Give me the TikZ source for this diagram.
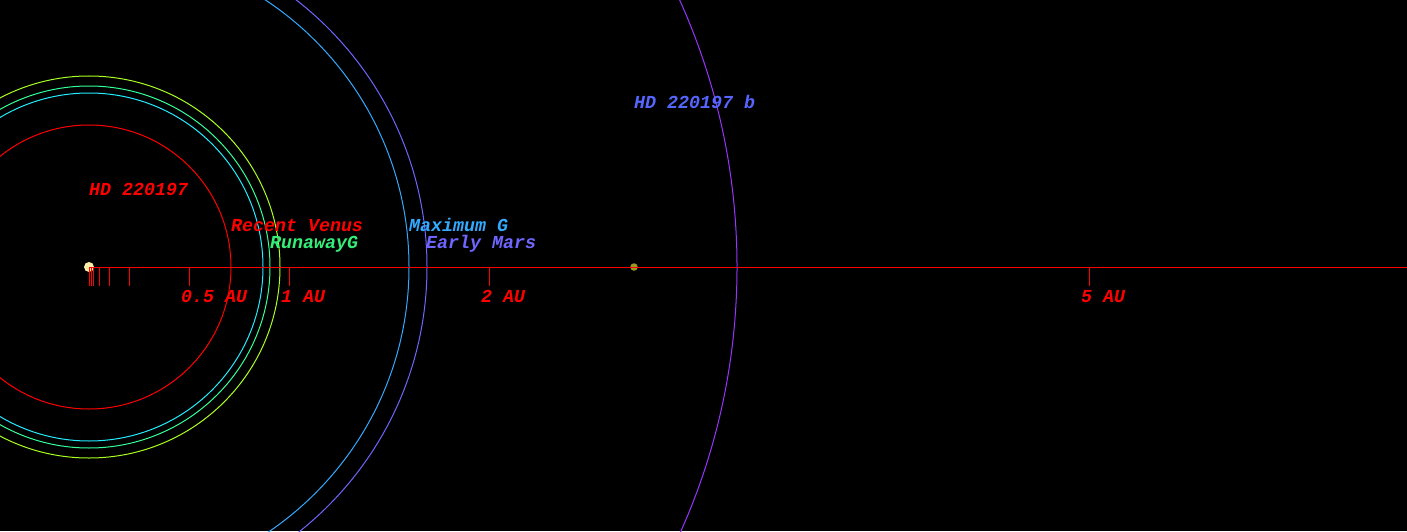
\documentclass[tikz,border=0pt]{standalone}
\usepackage{fontspec}
\setmonofont{Liberation Mono}
\begin{document}
\begin{tikzpicture}[x=200pt, y=200pt,
    orbit/.style={line width=1pt},
    axisline/.style={red, line width=1pt},
    lbl/.style={anchor=base west, inner sep=0pt, font=\ttfamily\bfseries\itshape\fontsize{18.3}{20}\selectfont}]
    % Define colours
    \definecolor{starColour}{HTML}{FFEEAA}
    \definecolor{planetColour}{HTML}{9A9A22}
    \definecolor{venusColour}{HTML}{FF0000}
    \definecolor{maxGreenColour}{HTML}{22EEFF}
    \definecolor{runawayColour}{HTML}{33FF99}
    \definecolor{limeColour}{HTML}{AAFF22}
    \definecolor{maxGColour}{HTML}{33AAFF}
    \definecolor{marsColour}{HTML}{6F66FF}
    \definecolor{orbitColour}{HTML}{9933FF}
    \definecolor{runawayText}{HTML}{33EE77}
    \definecolor{planetText}{HTML}{5566FF}

    % Define frame limits (in AU, 1 AU = 200pt)
    \def\xMin{-0.445}
    \def\xMax{6.59}
    \def\yMin{-1.32}
    \def\yMax{1.335}

    % Draw background
    \clip (\xMin,\yMin) rectangle (\xMax,\yMax);
    \fill[black] (\xMin,\yMin) rectangle (\xMax,\yMax);

    % Draw habitable zone limits
    \draw[orbit, venusColour] (0,0) circle (0.71);
    \draw[orbit, maxGreenColour] (0,0) circle (0.87);
    \draw[orbit, runawayColour] (0,0) circle (0.905);
    \draw[orbit, limeColour] (0,0) circle (0.955);
    \draw[orbit, maxGColour] (0,0) circle (1.6);
    \draw[orbit, marsColour] (0,0) circle (1.69);

    % Draw planet orbit
    \draw[orbit, orbitColour] (0,0) circle (3.24);

    % Draw star and planet
    \node[circle, fill=starColour, inner sep=0pt, minimum size=10pt] (star) at (0,0) {};
    \node[circle, fill=planetColour, inner sep=0pt, minimum size=7.5pt] (planet) at (2.725,0) {};

    % Draw axis
    \coordinate (axisEnd) at (\xMax,0);
    \draw[axisline] (star.center) -- (axisEnd);
    \foreach \t in {0,0.01,0.02,0.05,0.1,0.2,0.5,1,2,5}
        \draw[axisline] (\t,0) -- (\t,-0.095);

    % Label axis
    \foreach \t/\txt/\name in {0.5/0.5 AU/half,1/1 AU/one,2/2 AU/two,5/5 AU/five}
        \node[lbl, red] (tick\name) at (\t-0.04,-0.178) {\txt};

    % Label star, planet and limits
    \node[lbl, red] (starLabel) at (0,0.36) {HD 220197};
    \node[lbl, venusColour] (venusLabel) at (0.71,0.18) {Recent Venus};
    \node[lbl, runawayText] (runawayLabel) at (0.905,0.095) {RunawayG};
    \node[lbl, maxGColour] (maxGLabel) at (1.6,0.18) {Maximum G};
    \node[lbl, marsColour] (marsLabel) at (1.685,0.095) {Early Mars};
    \node[lbl, planetText] (planetLabel) at (2.725,0.795) {HD 220197 b};

\end{tikzpicture}
\end{document}
